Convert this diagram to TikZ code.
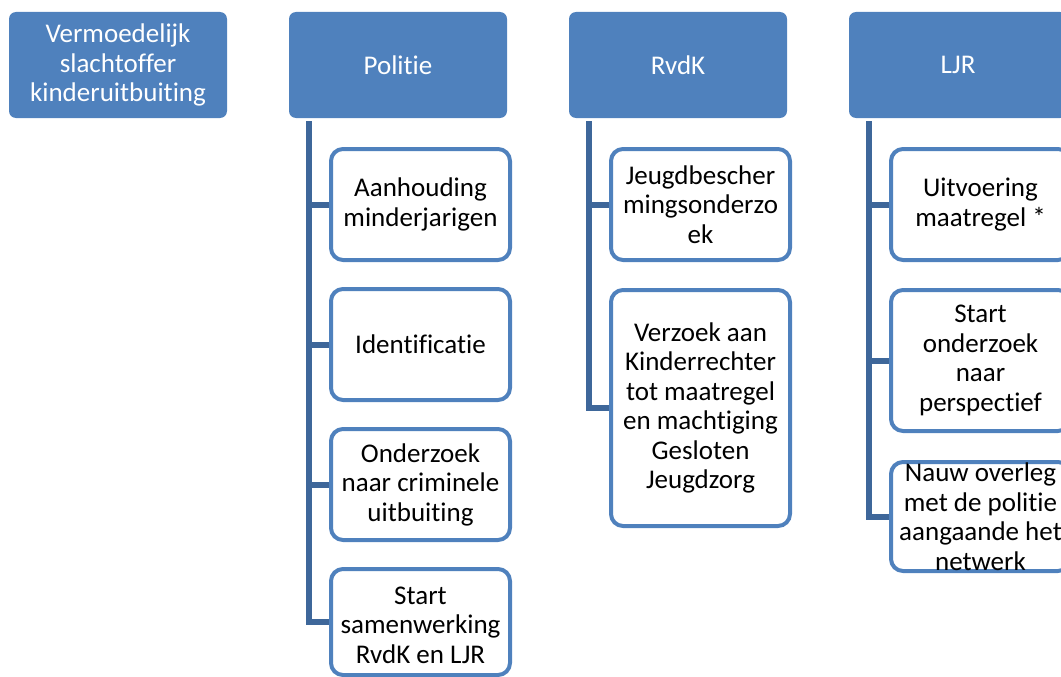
\documentclass[tikz,border=0pt]{standalone}
\usepackage{fontspec}
\setmainfont[Ligatures=NoCommon]{Carlito}
\definecolor{accent}{RGB}{79,129,189}
\definecolor{connc}{RGB}{62,103,154}
\tikzset{
  txt/.style={align=center, inner sep=0pt, font=\fontsize{27}{29.5}\selectfont},
  headbox/.style={txt, fill=accent, text=white, rounded corners=7pt,
    minimum width=218pt, minimum height=106pt},
  itembox/.style={txt, draw=accent, line width=4pt, fill=white, rounded corners=12pt,
    minimum width=179pt},
  conn/.style={draw=connc, line width=6pt}
}
\begin{document}
\begin{tikzpicture}[x=1pt,y=-1pt]
\useasboundingbox (0,0) rectangle (1061,677);
\clip (0,0) rectangle (1061,677);

% heads
\node[headbox] (vs)  at (118,65) {Vermoedelijk\\slachtoffer\\kinderuitbuiting};
\node[headbox] (pol) at (398,65) {Politie};
\node[headbox] (rvk) at (678,65) {RvdK};
\node[headbox] (ljr) at (958,65) {LJR};

% Politie items
\node[itembox, minimum height=111pt] (p1) at (420.5,204.5) {Aanhouding\\minderjarigen};
\node[itembox, minimum height=111pt] (p2) at (420.5,344.5) {Identificatie};
\node[itembox, minimum height=111pt] (p3) at (420.5,484.5) {Onderzoek\\naar criminele\\uitbuiting};
\node[itembox, minimum height=106pt] (p4) at (420.5,622) {};
\node[txt] (p4t) at ([yshift=-3pt]p4.center) {Start\\samenwerking\\RvdK en LJR};

% RvdK items
\node[itembox, minimum height=111pt] (r1) at (700.5,204.5) {Jeugdbescher\\mingsonderzo\\ek};
\node[itembox, minimum height=236pt] (r2) at (700.5,408) {Verzoek aan\\Kinderrechter\\tot maatregel\\en machtiging\\Gesloten\\Jeugdzorg};

% LJR items
\node[itembox, minimum height=111pt] (l1) at (980.5,204.5) {Uitvoering\\maatregel *};
\node[itembox, minimum height=141pt] (l2) at (980.5,360.5) {Start\\onderzoek\\naar\\perspectief};
\node[itembox, minimum height=109pt] (l3) at (980.5,516.5) {};
\node[txt] (l3t) at (l3.center) {Nauw overleg\\met de politie\\aangaande het\\netwerk};

% trunks
\coordinate (pt) at ([xshift=20pt,yshift=-3pt]pol.south west);
\coordinate (rt) at ([xshift=20pt,yshift=-3pt]rvk.south west);
\coordinate (lt) at ([xshift=20pt,yshift=-3pt]ljr.south west);

\draw[conn] (pt) |- (p4.west);
\draw[conn] (pt |- p1.west) -- (p1.west);
\draw[conn] (pt |- p2.west) -- (p2.west);
\draw[conn] (pt |- p3.west) -- (p3.west);

\draw[conn] (rt) |- (r2.west);
\draw[conn] (rt |- r1.west) -- (r1.west);

\draw[conn] (lt) |- (l3.west);
\draw[conn] (lt |- l1.west) -- (l1.west);
\draw[conn] (lt |- l2.west) -- (l2.west);
\end{tikzpicture}
\end{document}
